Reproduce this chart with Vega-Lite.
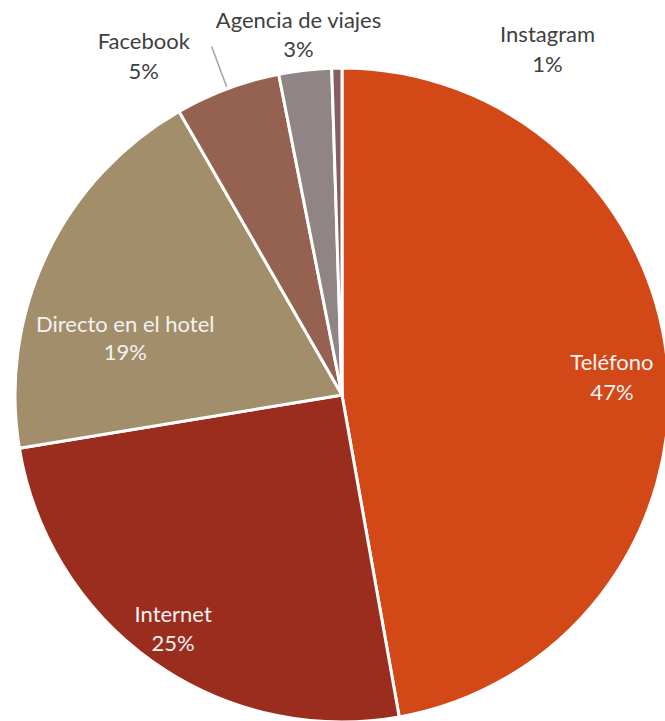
{
  "$schema": "https://vega.github.io/schema/vega-lite/v6.json",
  "autosize": "none",
  "width": 646,
  "height": 652,
  "padding": {"left": 19, "top": 69, "right": 0, "bottom": 0},
  "background": "white",
  "config": {"view": {"stroke": null}, "text": {"font": "Lato", "fontSize": 22}},
  "data": {"values": [
    {"canal": "Teléfono", "share": 0.472, "orden": 1},
    {"canal": "Internet", "share": 0.252, "orden": 2},
    {"canal": "Directo en el hotel", "share": 0.193, "orden": 3},
    {"canal": "Facebook", "share": 0.052, "orden": 4},
    {"canal": "Agencia de viajes", "share": 0.026, "orden": 5},
    {"canal": "Instagram", "share": 0.005, "orden": 6}
  ]},
  "encoding": {
    "theta": {"field": "share", "type": "quantitative", "stack": true},
    "order": {"field": "orden", "type": "quantitative"}
  },
  "layer": [
    {
      "mark": {"type": "arc", "outerRadius": 327, "stroke": "white", "strokeWidth": 3},
      "encoding": {
        "color": {"field": "canal", "type": "nominal", "legend": null,
          "scale": {"domain": ["Teléfono", "Internet", "Directo en el hotel", "Facebook", "Agencia de viajes", "Instagram"],
                    "range": ["#D34817", "#9B2D1F", "#A28E6A", "#956251", "#918485", "#855D5D"]}}
      }
    },
    {
      "mark": {"type": "arc", "innerRadius": 329, "outerRadius": 372, "padAngle": 1.5, "stroke": "#A6A6A6", "strokeWidth": 1.5, "fill": null},
      "encoding": {
        "strokeOpacity": {"condition": {"test": "datum.canal === 'Facebook'", "value": 1}, "value": 0}
      }
    },
    {"mark": {"type": "text", "radius": 271, "dx": 0, "dy": -8, "fill": "#F2F2F2"},
     "encoding": {"text": {"condition": {"test": "datum.canal === 'Teléfono'", "field": "canal"}, "value": ""}}},
    {"mark": {"type": "text", "radius": 271, "dx": 0, "dy": 22, "fill": "#F2F2F2"},
     "encoding": {"text": {"condition": {"test": "datum.canal === 'Teléfono'", "field": "share", "format": ".0%"}, "value": ""}}},
    {"mark": {"type": "text", "radius": 288, "dx": -2.5, "dy": -15, "fill": "#F2F2F2"},
     "encoding": {"text": {"condition": {"test": "datum.canal === 'Internet'", "field": "canal"}, "value": ""}}},
    {"mark": {"type": "text", "radius": 288, "dx": -2.5, "dy": 13.5, "fill": "#F2F2F2"},
     "encoding": {"text": {"condition": {"test": "datum.canal === 'Internet'", "field": "share", "format": ".0%"}, "value": ""}}},
    {"mark": {"type": "text", "radius": 220, "dx": -18, "dy": 24.4, "fill": "#F2F2F2"},
     "encoding": {"text": {"condition": {"test": "datum.canal === 'Directo en el hotel'", "field": "canal"}, "value": ""}}},
    {"mark": {"type": "text", "radius": 220, "dx": -18, "dy": 52.4, "fill": "#F2F2F2"},
     "encoding": {"text": {"condition": {"test": "datum.canal === 'Directo en el hotel'", "field": "share", "format": ".0%"}, "value": ""}}},
    {"mark": {"type": "text", "radius": 360, "dx": -72, "dy": -16, "fill": "#404040"},
     "encoding": {"text": {"condition": {"test": "datum.canal === 'Facebook'", "field": "canal"}, "value": ""}}},
    {"mark": {"type": "text", "radius": 360, "dx": -72, "dy": 14, "fill": "#404040"},
     "encoding": {"text": {"condition": {"test": "datum.canal === 'Facebook'", "field": "share", "format": ".0%"}, "value": ""}}},
    {"mark": {"type": "text", "radius": 363, "dx": -2.5, "dy": -13.3, "fill": "#404040"},
     "encoding": {"text": {"condition": {"test": "datum.canal === 'Agencia de viajes'", "field": "canal"}, "value": ""}}},
    {"mark": {"type": "text", "radius": 363, "dx": -2.5, "dy": 15.2, "fill": "#404040"},
     "encoding": {"text": {"condition": {"test": "datum.canal === 'Agencia de viajes'", "field": "share", "format": ".0%"}, "value": ""}}},
    {"mark": {"type": "text", "radius": 347, "dx": 211, "dy": -13.5, "fill": "#404040"},
     "encoding": {"text": {"condition": {"test": "datum.canal === 'Instagram'", "field": "canal"}, "value": ""}}},
    {"mark": {"type": "text", "radius": 347, "dx": 211, "dy": 16.5, "fill": "#404040"},
     "encoding": {"text": {"condition": {"test": "datum.canal === 'Instagram'", "field": "share", "format": ".0%"}, "value": ""}}}
  ]
}
